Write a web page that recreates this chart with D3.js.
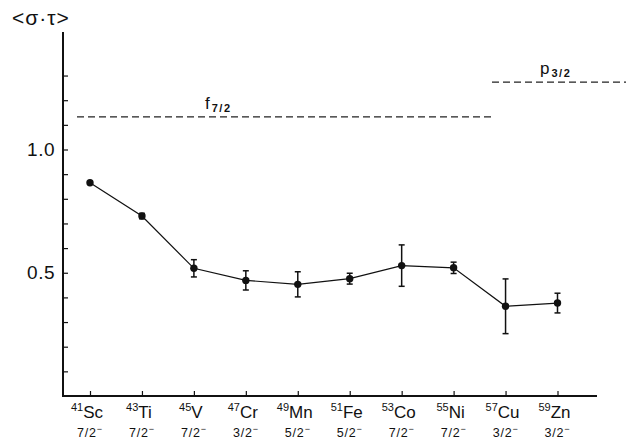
<!DOCTYPE html>
<html>
<head>
<meta charset="utf-8">
<script src="https://cdn.jsdelivr.net/npm/d3@7"></script>
<style>
  body { margin: 0; background: #fff; }
  text { font-family: "Liberation Sans", Arial, sans-serif; fill: #111; }
</style>
</head>
<body>
<div id="chart"></div>
<script>
// nuclei along the x axis, mass number + element, and ground state spin
var masses = ["41", "43", "45", "47", "49", "51", "53", "55", "57", "59"];
var elements = ["Sc", "Ti", "V", "Cr", "Mn", "Fe", "Co", "Ni", "Cu", "Zn"];
var spins = ["7/2", "7/2", "7/2", "3/2", "5/2", "5/2", "7/2", "7/2", "3/2", "3/2"];

// <sigma.tau> values and their errors
var values = [0.865, 0.730, 0.518, 0.469, 0.453, 0.476, 0.529, 0.520, 0.364, 0.377];
var errors = [0.0, 0.011, 0.035, 0.039, 0.051, 0.022, 0.084, 0.023, 0.111, 0.040];

// single particle limits (dashed lines)
var limitNames = ["f", "p"];
var limitSubs = ["7/2", "3/2"];
var limitValues = [1.132, 1.273];

var yTicks = [0.1, 0.2, 0.3, 0.4, 0.5, 0.6, 0.7, 0.8, 0.9, 1.0, 1.1, 1.2, 1.3];
var yLabels = [0.5, 1.0];

var width = 628, height = 440;

var svg = d3.select("#chart")
    .append("svg")
    .attr("width", width)
    .attr("height", height);

var keys = masses.map(function (m, i) { return m + elements[i]; });

var x = d3.scalePoint()
    .domain(keys)
    .range([90, 557.5]);

var y = d3.scaleLinear()
    .domain([0, 1])
    .range([396, 149.5]);

var x0 = 63, x1 = 597, yTop = 32;

// axes lines
svg.append("line")
    .attr("x1", x0).attr("x2", x0)
    .attr("y1", yTop).attr("y2", y(0))
    .attr("stroke", "#111").attr("stroke-width", 2);
svg.append("line")
    .attr("x1", x0 - 1).attr("x2", x1)
    .attr("y1", y(0)).attr("y2", y(0))
    .attr("stroke", "#111").attr("stroke-width", 1.8);

// y ticks pointing inward
var yAxis = svg.append("g")
    .attr("transform", "translate(" + x0 + ",0)")
    .call(d3.axisRight(y).tickValues(yTicks).tickSize(5).tickFormat(""));
yAxis.select(".domain").remove();
yAxis.selectAll("line").attr("stroke", "#111").attr("stroke-width", 1.2);

svg.selectAll(".ylab")
    .data(yLabels)
    .join("text")
    .attr("class", "ylab")
    .attr("x", 55)
    .attr("y", function (d) { return y(d) + 6.5; })
    .attr("text-anchor", "end")
    .style("font-size", "19px")
    .style("letter-spacing", "0.5px")
    .text(function (d) { return d.toFixed(1); });

// x ticks pointing inward
var xAxis = svg.append("g")
    .attr("transform", "translate(0," + y(0) + ")")
    .call(d3.axisTop(x).tickSize(5).tickFormat(""));
xAxis.select(".domain").remove();
xAxis.selectAll("line").attr("stroke", "#111").attr("stroke-width", 1.2);

// x labels: isotope and spin
var lab = svg.selectAll(".iso")
    .data(keys)
    .join("text")
    .attr("class", "iso")
    .attr("x", function (d) { return x(d) - 3; })
    .attr("y", 418)
    .attr("text-anchor", "middle");
lab.append("tspan")
    .style("font-size", "11px")
    .attr("dy", -7.5)
    .text(function (d, i) { return masses[i]; });
lab.append("tspan")
    .style("font-size", "17px")
    .attr("dy", 7.5)
    .text(function (d, i) { return elements[i]; });

var sp = svg.selectAll(".spin")
    .data(keys)
    .join("text")
    .attr("class", "spin")
    .attr("x", function (d) { return x(d); })
    .attr("y", 437)
    .attr("text-anchor", "middle")
    .style("font-size", "12.5px")
    .style("letter-spacing", "0.8px");
sp.append("tspan").text(function (d, i) { return spins[i]; });
sp.append("tspan")
    .attr("dy", -5)
    .style("font-size", "9px")
    .text("\u2212");

// y title
svg.append("text")
    .attr("x", 12)
    .attr("y", 25)
    .style("font-size", "21px")
    .style("letter-spacing", "1px")
    .text("<\u03c3\u00b7\u03c4>");

// dashed limits
var limEnd = [491, 626];
var limStart = [77, 492];
svg.selectAll(".lim")
    .data(limitValues)
    .join("line")
    .attr("class", "lim")
    .attr("x1", function (d, i) { return limStart[i]; })
    .attr("x2", function (d, i) { return limEnd[i]; })
    .attr("y1", function (d) { return y(d); })
    .attr("y2", function (d) { return y(d); })
    .attr("stroke", "#222")
    .attr("stroke-width", 1.2)
    .attr("stroke-dasharray", "7,4");

var limX = [205, 540];
var lt = svg.selectAll(".limlab")
    .data(limitValues)
    .join("text")
    .attr("class", "limlab")
    .attr("x", function (d, i) { return limX[i]; })
    .attr("y", function (d) { return y(d) - 8; })
    .style("font-size", "17px");
lt.append("tspan").text(function (d, i) { return limitNames[i]; });
lt.append("tspan")
    .attr("dx", 2)
    .attr("dy", 3)
    .style("font-size", "11px")
    .style("font-weight", "bold")
    .style("letter-spacing", "1.5px")
    .text(function (d, i) { return limitSubs[i]; });

// connecting line
var line = d3.line()
    .x(function (d, i) { return x(keys[i]); })
    .y(function (d) { return y(d); });

svg.append("path")
    .datum(values)
    .attr("d", line)
    .attr("fill", "none")
    .attr("stroke", "#111")
    .attr("stroke-width", 1.2);

// error bars
var pts = values.map(function (v, i) { return { k: keys[i], v: v, e: errors[i] }; })
    .filter(function (d) { return d.e > 0; });
var eb = svg.selectAll(".err")
    .data(pts)
    .join("g")
    .attr("class", "err");
eb.append("line")
    .attr("x1", function (d) { return x(d.k); })
    .attr("x2", function (d) { return x(d.k); })
    .attr("y1", function (d) { return y(d.v + d.e); })
    .attr("y2", function (d) { return y(d.v - d.e); })
    .attr("stroke", "#111").attr("stroke-width", 1.5);
[1, -1].forEach(function (s) {
    eb.append("line")
        .attr("x1", function (d) { return x(d.k) - 3; })
        .attr("x2", function (d) { return x(d.k) + 3; })
        .attr("y1", function (d) { return y(d.v + s * d.e); })
        .attr("y2", function (d) { return y(d.v + s * d.e); })
        .attr("stroke", "#111").attr("stroke-width", 1.5);
});

// points
svg.selectAll(".pt")
    .data(values)
    .join("circle")
    .attr("class", "pt")
    .attr("cx", function (d, i) { return x(keys[i]); })
    .attr("cy", function (d) { return y(d); })
    .attr("r", 3.7)
    .attr("fill", "#111");
</script>
</body>
</html>
